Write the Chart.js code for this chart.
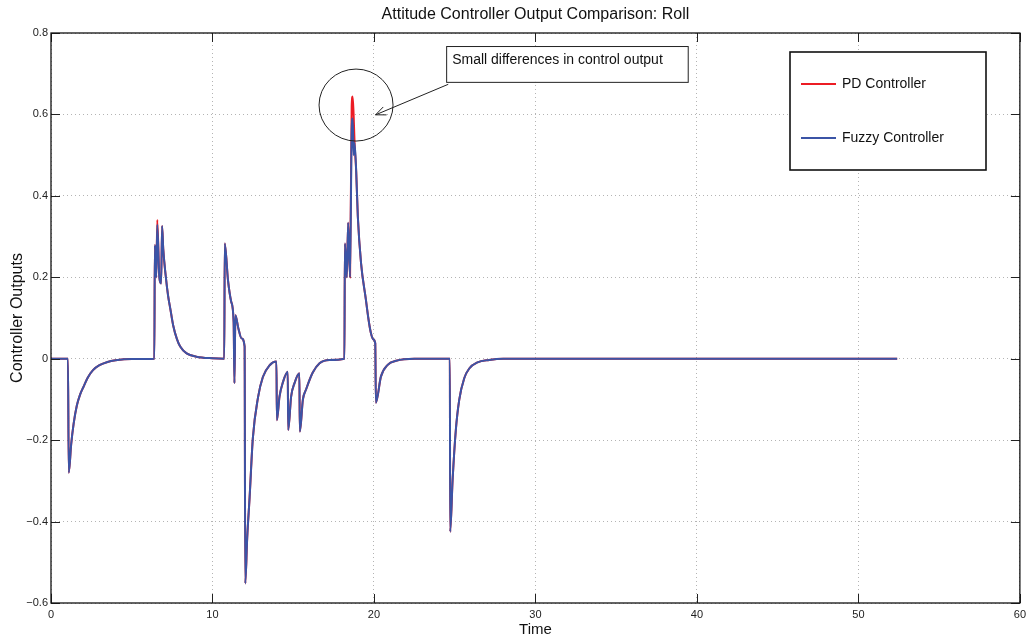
<!DOCTYPE html>
<html>
<head>
<meta charset="utf-8">
<title>Attitude Controller Output Comparison: Roll</title>
<script src="https://cdn.jsdelivr.net/npm/chart.js@4.4.0/dist/chart.umd.min.js"></script>
<style>
    html, body { margin: 0; padding: 0; background: #fff; }
    #wrap { width: 1031px; height: 643px; }
</style>
</head>
<body>
<div id="wrap"><canvas id="rollChart" width="1031" height="643"></canvas></div>
<script>
// sample times (s)
var time = [
    0, 1.05, 1.10, 1.25, 1.40, 1.60, 1.80, 2.00, 2.30, 2.60, 3.00, 3.50, 4.00, 5.00,
    6.40, 6.43, 6.52, 6.58, 6.71, 6.82, 6.88, 6.95, 7.10, 7.25, 7.40, 7.56, 7.80, 8.00, 8.40, 9.00, 10.00,
    10.73, 10.76, 10.96, 11.16, 11.31, 11.36, 11.42, 11.60, 11.80, 11.99,
    12.03, 12.15, 12.30, 12.50, 12.82, 13.12, 13.54, 13.96,
    13.99, 14.15, 14.36, 14.66,
    14.69, 14.87, 15.08, 15.38,
    15.41, 15.60, 15.80, 16.21, 16.63, 17.24,
    18.17, 18.20, 18.32, 18.40, 18.52, 18.62, 18.68, 18.74, 18.80, 18.90, 19.00, 19.20, 19.50, 19.65, 19.80, 19.95, 20.08,
    20.12, 20.43, 20.85, 21.37, 22.50,
    24.70, 24.72, 24.87, 25.07, 25.28, 25.59, 25.90, 26.41, 27.13, 28.00, 52.40
];

var fuzzyOutput = [
    0, 0, -0.28, -0.21, -0.16, -0.115, -0.088, -0.07, -0.045, -0.028, -0.016, -0.008, -0.004, -0.001,
    0, 0.279, 0.20, 0.329, 0.20, 0.185, 0.326, 0.27, 0.205, 0.155, 0.12, 0.083, 0.048, 0.03, 0.013, 0.005, 0.001,
    0, 0.283, 0.193, 0.14, 0.09, -0.06, 0.107, 0.075, 0.05, 0.03,
    -0.552, -0.44, -0.34, -0.195, -0.095, -0.045, -0.016, -0.007,
    -0.151, -0.093, -0.058, -0.032,
    -0.175, -0.093, -0.06, -0.036,
    -0.179, -0.1, -0.075, -0.034, -0.011, -0.003,
    0, 0.283, 0.20, 0.334, 0.20, 0.56, 0.59, 0.50, 0.53, 0.46, 0.35, 0.235, 0.145, 0.10, 0.065, 0.048, 0.038,
    -0.108, -0.044, -0.015, -0.005, 0,
    0, -0.425, -0.298, -0.175, -0.101, -0.048, -0.024, -0.009, -0.003, 0, 0
];

// PD only shows where it pokes out above the fuzzy trace
var pdOutput = [
    0, 0, -0.28, -0.21, -0.16, -0.115, -0.088, -0.07, -0.045, -0.028, -0.016, -0.008, -0.004, -0.001,
    0, 0.279, 0.20, 0.341, 0.20, 0.185, 0.326, 0.27, 0.205, 0.155, 0.12, 0.083, 0.048, 0.03, 0.013, 0.005, 0.001,
    0, 0.283, 0.193, 0.14, 0.09, -0.06, 0.107, 0.075, 0.05, 0.03,
    -0.552, -0.44, -0.34, -0.195, -0.095, -0.045, -0.016, -0.007,
    -0.151, -0.093, -0.058, -0.032,
    -0.175, -0.093, -0.06, -0.036,
    -0.179, -0.1, -0.075, -0.034, -0.011, -0.003,
    0, 0.283, 0.20, 0.334, 0.20, 0.62, 0.644, 0.60, 0.53, 0.46, 0.35, 0.235, 0.145, 0.10, 0.065, 0.048, 0.038,
    -0.108, -0.044, -0.015, -0.005, 0,
    0, -0.425, -0.298, -0.175, -0.101, -0.048, -0.024, -0.009, -0.003, 0, 0
];

var xTicks = [0, 10, 20, 30, 40, 50, 60];
var yTicks = [-0.6, -0.4, -0.2, 0, 0.2, 0.4, 0.6, 0.8];

var chartTitle = 'Attitude Controller Output Comparison: Roll';
var seriesNames = ['PD Controller', 'Fuzzy Controller'];
var seriesColors = ['#ec1c24', '#3b54a6'];

function toPoints(ys) {
    return time.map(function (t, i) { return {x: t, y: ys[i]}; });
}

// callout: circle around the peak + text box with arrow (data coords)
var note = {
    text: 'Small differences in control output',
    circle: {x: 18.89, y: 0.623, rx: 37, ry: 36},
    box: {x0: 24.47, y0: 0.768, x1: 39.43, y1: 0.680},
    arrowFrom: {x: 24.6, y: 0.674},
    arrowTo: {x: 20.1, y: 0.599}
};

var FONT = '"Liberation Sans", Arial, sans-serif';

var matlabLook = {
    id: 'matlabLook',
    afterDraw: function (chart) {
        var ctx = chart.ctx, a = chart.chartArea;
        var xs = chart.scales.x, ys = chart.scales.y;
        ctx.save();

        // title, centred over the axes box
        ctx.fillStyle = '#111';
        ctx.font = '16px ' + FONT;
        ctx.textAlign = 'center';
        ctx.textBaseline = 'middle';
        ctx.fillText(chartTitle, (a.left + a.right) / 2, 15);

        // inward ticks on all four sides
        ctx.strokeStyle = '#222';
        ctx.lineWidth = 1;
        ctx.beginPath();
        xTicks.forEach(function (t) {
            var px = Math.round(xs.getPixelForValue(t)) + 0.5;
            ctx.moveTo(px, a.bottom); ctx.lineTo(px, a.bottom - 9);
            ctx.moveTo(px, a.top); ctx.lineTo(px, a.top + 9);
        });
        yTicks.forEach(function (v) {
            var py = Math.round(ys.getPixelForValue(v)) + 0.5;
            ctx.moveTo(a.left, py); ctx.lineTo(a.left + 9, py);
            ctx.moveTo(a.right, py); ctx.lineTo(a.right - 9, py);
        });
        ctx.stroke();

        // axes box
        ctx.strokeStyle = '#111';
        ctx.lineWidth = 1.3;
        ctx.strokeRect(a.left, a.top, a.right - a.left, a.bottom - a.top);

        // callout circle
        ctx.strokeStyle = '#222';
        ctx.lineWidth = 1;
        ctx.beginPath();
        ctx.ellipse(xs.getPixelForValue(note.circle.x), ys.getPixelForValue(note.circle.y),
            note.circle.rx, note.circle.ry, 0, 0, Math.PI * 2);
        ctx.stroke();

        // callout box
        var bx0 = xs.getPixelForValue(note.box.x0), by0 = ys.getPixelForValue(note.box.y0);
        var bx1 = xs.getPixelForValue(note.box.x1), by1 = ys.getPixelForValue(note.box.y1);
        ctx.fillStyle = '#fff';
        ctx.fillRect(bx0, by0, bx1 - bx0, by1 - by0);
        ctx.strokeRect(bx0 + 0.5, by0 + 0.5, bx1 - bx0, by1 - by0);
        ctx.fillStyle = '#111';
        ctx.font = '14px ' + FONT;
        ctx.textAlign = 'left';
        ctx.fillText(note.text, bx0 + 6, by0 + 14);

        // arrow
        var ax0 = xs.getPixelForValue(note.arrowFrom.x), ay0 = ys.getPixelForValue(note.arrowFrom.y);
        var ax1 = xs.getPixelForValue(note.arrowTo.x), ay1 = ys.getPixelForValue(note.arrowTo.y);
        var ang = Math.atan2(ay1 - ay0, ax1 - ax0);
        ctx.beginPath();
        ctx.moveTo(ax0, ay0); ctx.lineTo(ax1, ay1);
        ctx.moveTo(ax1 - 11 * Math.cos(ang - 0.4), ay1 - 11 * Math.sin(ang - 0.4));
        ctx.lineTo(ax1, ay1);
        ctx.lineTo(ax1 - 11 * Math.cos(ang + 0.4), ay1 - 11 * Math.sin(ang + 0.4));
        ctx.stroke();

        // legend box
        var lx = 790, ly = 52, lw = 196, lh = 118;
        ctx.fillStyle = '#fff';
        ctx.fillRect(lx, ly, lw, lh);
        ctx.strokeStyle = '#111';
        ctx.lineWidth = 1.6;
        ctx.strokeRect(lx, ly, lw, lh);
        ctx.font = '14px ' + FONT;
        chart.data.datasets.forEach(function (ds, i) {
            var yy = ly + 32 + i * 54;
            ctx.strokeStyle = ds.borderColor;
            ctx.lineWidth = 2;
            ctx.beginPath();
            ctx.moveTo(lx + 11, yy); ctx.lineTo(lx + 46, yy);
            ctx.stroke();
            ctx.fillStyle = '#111';
            ctx.fillText(ds.label, lx + 52, yy);
        });

        ctx.restore();
    }
};

var ctx = document.getElementById('rollChart');

var rollChart = new Chart(ctx, {
    type: 'line',
    data: {
        datasets: [
            {
                label: seriesNames[0],
                data: toPoints(pdOutput),
                borderColor: seriesColors[0],
                borderWidth: 2,
                pointRadius: 0,
                cubicInterpolationMode: 'monotone',
                order: 2
            },
            {
                label: seriesNames[1],
                data: toPoints(fuzzyOutput),
                borderColor: seriesColors[1],
                borderWidth: 2,
                pointRadius: 0,
                cubicInterpolationMode: 'monotone',
                order: 1
            }
        ]
    },
    options: {
        responsive: false,
        animation: false,
        layout: {padding: {left: 0, right: 9, top: 33, bottom: 0}},
        plugins: {
            legend: {display: false},
            tooltip: {enabled: false},
            title: {display: false}
        },
        scales: {
            x: {
                type: 'linear',
                min: 0,
                max: 60,
                afterBuildTicks: function (scale) {
                    scale.ticks = xTicks.map(function (v) { return {value: v}; });
                },
                afterFit: function (scale) { scale.height = 40; },
                ticks: {
                    color: '#222',
                    padding: 5,
                    maxRotation: 0,
                    font: {family: FONT, size: 11}
                },
                grid: {color: '#b4b4b4', drawTicks: false, tickLength: 0},
                border: {display: false, dash: [1, 3]},
                title: {
                    display: true,
                    text: 'Time',
                    color: '#111',
                    font: {family: FONT, size: 15},
                    padding: {top: 0, bottom: 4}
                }
            },
            y: {
                type: 'linear',
                min: -0.6,
                max: 0.8,
                afterBuildTicks: function (scale) {
                    scale.ticks = yTicks.map(function (v) { return {value: v}; });
                },
                afterFit: function (scale) { scale.width = 51; },
                ticks: {
                    color: '#222',
                    padding: 3,
                    font: {family: FONT, size: 11},
                    callback: function (v) {
                        if (Math.abs(v) < 1e-9) return '0';
                        return (v < 0 ? '\u2212' : '') + Math.abs(v).toFixed(1);
                    }
                },
                grid: {color: '#b4b4b4', drawTicks: false, tickLength: 0},
                border: {display: false, dash: [1, 3]},
                title: {
                    display: true,
                    text: 'Controller Outputs',
                    color: '#111',
                    font: {family: FONT, size: 16},
                    padding: {top: 8, bottom: 0}
                }
            }
        }
    },
    plugins: [matlabLook]
});
</script>
</body>
</html>
